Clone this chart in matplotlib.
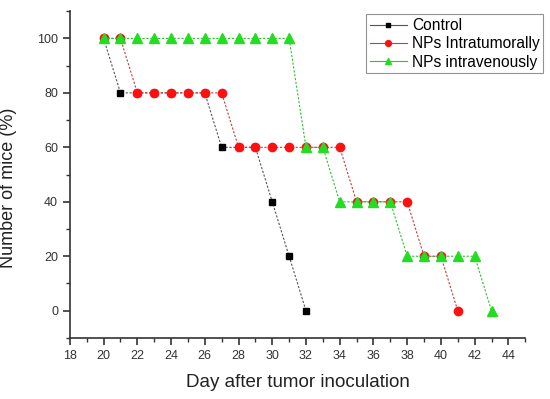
import matplotlib
matplotlib.use("Agg")
import matplotlib.pyplot as plt
from matplotlib.ticker import MultipleLocator

plt.rcParams['font.family'] = ['Liberation Sans', 'DejaVu Sans']

days_control = [20, 21, 22, 23, 24, 25, 26, 27, 28, 29, 30, 31, 32]
control = [100, 80, 80, 80, 80, 80, 80, 60, 60, 60, 40, 20, 0]

days_itu = [20, 21, 22, 23, 24, 25, 26, 27, 28, 29, 30, 31, 32, 33, 34, 35, 36, 37, 38, 39, 40, 41]
itu = [100, 100, 80, 80, 80, 80, 80, 80, 60, 60, 60, 60, 60, 60, 60, 40, 40, 40, 40, 20, 20, 0]

days_iv = [20, 21, 22, 23, 24, 25, 26, 27, 28, 29, 30, 31, 32, 33, 34, 35, 36, 37, 38, 39, 40, 41, 42, 43]
iv = [100, 100, 100, 100, 100, 100, 100, 100, 100, 100, 100, 100, 60, 60, 40, 40, 40, 40, 20, 20, 20, 20, 20, 0]

fig = plt.figure(figsize=(5.5, 3.99), dpi=100)
ax = fig.add_axes([0.127, 0.153, 0.828, 0.819])

dash = (0, (2, 1.5))
ax.plot(days_control, control, color='#555555', ls=dash, lw=0.8,
        marker='s', ms=4.5, mfc='black', mec='black', label='Control', zorder=3)
ax.plot(days_itu, itu, color='#c04040', ls=dash, lw=0.8,
        marker='o', ms=6, mfc='#ff1010', mec='#ff1010', label='NPs Intratumorally', zorder=4)
ax.plot(days_iv, iv, color='#30c030', ls=dash, lw=0.8,
        marker='^', ms=6.5, mfc='#22dd22', mec='#22dd22', label='NPs intravenously', zorder=5)

ax.set_xlim(18, 45)
ax.set_ylim(-10, 110)
ax.set_xticks(range(18, 45, 2))
ax.set_yticks(range(0, 101, 20))
ax.xaxis.set_minor_locator(MultipleLocator(1))
ax.yaxis.set_minor_locator(MultipleLocator(10))

for s in ['top', 'right']:
    ax.spines[s].set_visible(False)
for s in ['left', 'bottom']:
    ax.spines[s].set_linewidth(1.2)
    ax.spines[s].set_color('#333333')

ax.tick_params(which='major', direction='out', length=5, width=1.2,
               colors='#333333', labelsize=9)
ax.tick_params(which='minor', direction='out', length=3, width=1.0, colors='#333333')

ax.set_xlabel('Day after tumor inoculation', fontsize=13.5, color='#222222', labelpad=9)
ax.set_ylabel('Number of mice (%)', fontsize=13, color='#222222', labelpad=9)
ax.yaxis.set_label_coords(-0.115, 0.46)

leg = ax.legend(loc='upper right', bbox_to_anchor=(1.04, 0.99), fontsize=11.2,
                frameon=True, fancybox=False, edgecolor='#777777', markerscale=0.7,
                handlelength=2.4, borderpad=0.25, labelspacing=0.2, handletextpad=0.3,
                borderaxespad=0)
leg.get_frame().set_linewidth(0.8)
for line in leg.get_lines():
    line.set_linestyle('-')

fig.savefig('out.png', dpi=100)
